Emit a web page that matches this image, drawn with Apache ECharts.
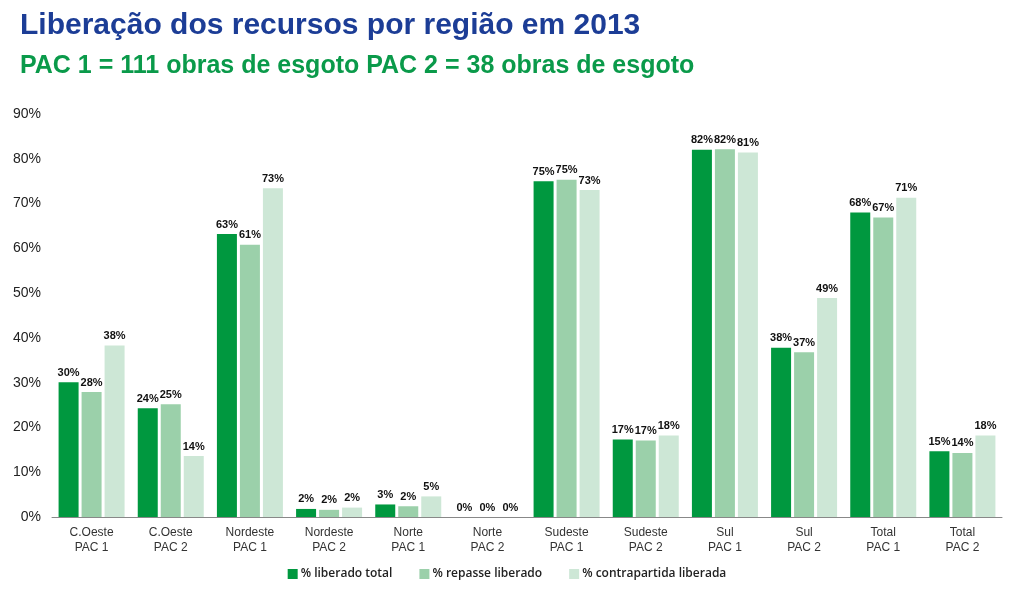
<!DOCTYPE html>
<html>
<head>
<meta charset="utf-8">
<script src="https://cdn.jsdelivr.net/npm/echarts@6/dist/echarts.min.js"></script>
<style>
html,body{margin:0;padding:0;background:#fff;}
#chart{width:1014px;height:597px;}
</style>
</head>
<body>
<div id="chart"></div>
<script>
const categories = ['C.Oeste\nPAC 1','C.Oeste\nPAC 2','Nordeste\nPAC 1','Nordeste\nPAC 2','Norte\nPAC 1','Norte\nPAC 2','Sudeste\nPAC 1','Sudeste\nPAC 2','Sul\nPAC 1','Sul\nPAC 2','Total\nPAC 1','Total\nPAC 2'];
const liberadoTotal = [30.1, 24.3, 63.2, 1.8, 2.8, 0, 75.0, 17.3, 82.0, 37.8, 68.0, 14.7];
const repasseLiberado = [27.9, 25.2, 60.8, 1.6, 2.4, 0, 75.3, 17.1, 82.1, 36.8, 66.9, 14.3];
const contrapartidaLiberada = [38.3, 13.6, 73.4, 2.1, 4.6, 0, 73.0, 18.2, 81.4, 48.9, 71.3, 18.2];
const seriesNames = ['% liberado total','% repasse liberado','% contrapartida liberada'];
const colors = ['#00983f','#9bd0aa','#cde7d6'];

const chart = echarts.init(document.getElementById('chart'));
const labelStyle = {
  show: true, position: 'top', distance: 4,
  fontFamily: '"Liberation Sans Narrow","Liberation Sans",Arial,sans-serif',
  fontWeight: 'bold', fontSize: 11, color: '#111',
  formatter: p => Math.round(p.value) + '%'
};
function mk(name, data, color){
  return {name, type:'bar', data, barWidth: 20, barGap: '15%',
    itemStyle:{color}, label: labelStyle};
}
chart.setOption({
  animation: false,
  title: [
    {text:'Liberação dos recursos por região em 2013', left: 15, top: 6,
     textStyle:{fontFamily:'"Liberation Sans",Arial,sans-serif', fontWeight:'bold', fontSize: 30, color:'#1c3d96'}},
    {text:'PAC 1 = 111 obras de esgoto PAC 2 = 38 obras de esgoto', left: 15, top: 49,
     textStyle:{fontFamily:'"Liberation Sans",Arial,sans-serif', fontWeight:'bold', fontSize: 25, color:'#0a9a4a'}}
  ],
  legend: {
    bottom: 12, left: 'center', itemWidth: 10, itemHeight: 10, itemGap: 27,
    icon: 'rect',
    textStyle:{fontFamily:'"Open Sans","Liberation Sans",sans-serif', fontWeight: 600, fontSize: 12, color:'#222', padding:[0,0,0,-2]},
    data: seriesNames
  },
  grid: {left: 52, right: 12, top: 114, bottom: 80},
  xAxis: {
    type: 'category', data: categories,
    axisLine:{lineStyle:{color:'#888', width:1}},
    axisTick:{show:false},
    axisLabel:{fontFamily:'"Liberation Sans",Arial,sans-serif', fontSize: 12, color:'#333', lineHeight: 15, margin: 8}
  },
  yAxis: {
    type: 'value', min: 0, max: 90, interval: 10,
    axisLine:{show:false}, axisTick:{show:false}, splitLine:{show:false},
    axisLabel:{formatter:'{value}%', fontFamily:'"Liberation Sans",Arial,sans-serif', fontSize: 14, color:'#222', margin: 11}
  },
  series: [
    mk(seriesNames[0], liberadoTotal, colors[0]),
    mk(seriesNames[1], repasseLiberado, colors[1]),
    mk(seriesNames[2], contrapartidaLiberada, colors[2])
  ]
});
</script>
</body>
</html>
